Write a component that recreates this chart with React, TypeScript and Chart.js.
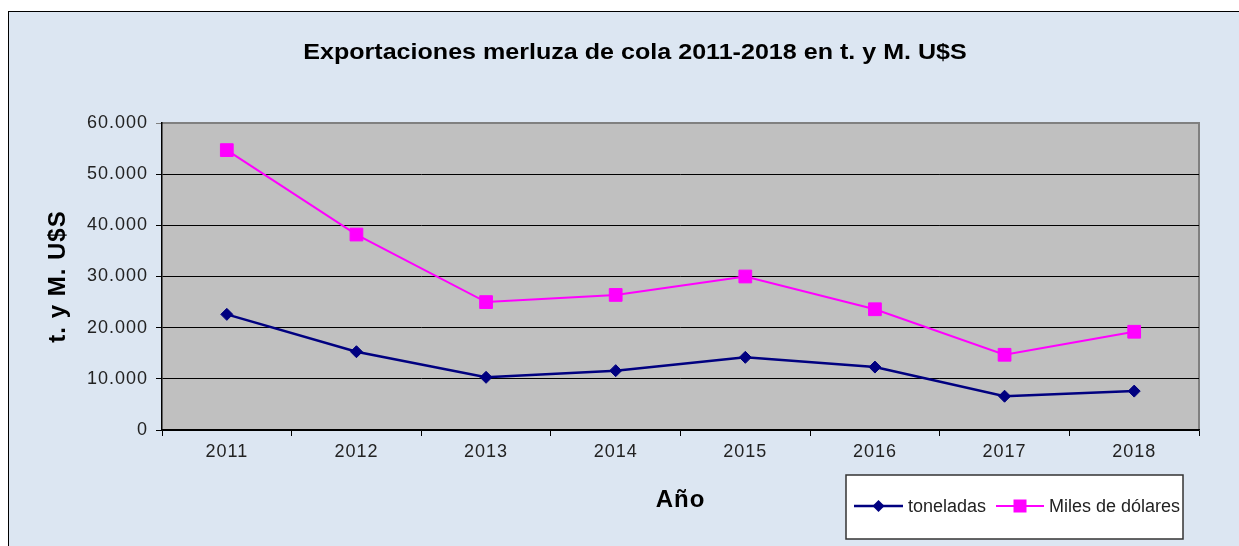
import React, { useEffect, useRef } from 'react';
import { Chart, registerables } from 'chart.js';

Chart.register(...registerables);

const years = ['2011', '2012', '2013', '2014', '2015', '2016', '2017', '2018'];
const toneladas = [22600, 15300, 10300, 11600, 14200, 12300, 6600, 7600];
const milesDolares = [54700, 38200, 25000, 26400, 30000, 23600, 14700, 19200];
const seriesNames = ['toneladas', 'Miles de dólares'];
const titleText = 'Exportaciones merluza de cola 2011-2018 en t. y M. U$S';
const yTitleText = 't. y M. U$S';
const xTitleText = 'Año';
const yMin = 0;
const yMax = 60000;
const yStep = 10000;

const FONT = "'Liberation Sans', Arial, sans-serif";
const CANVAS_W = 1238;
const CANVAS_H = 540;

const fmt = (v: number) => String(v).replace(/\B(?=(\d{3})+(?!\d))/g, '.');

const plotBg = {
  id: 'plotBg',
  beforeDraw(chart: any) {
    const { ctx, chartArea } = chart;
    const { left, top, right, bottom } = chartArea;
    ctx.letterSpacing = '1px';
    ctx.save();
    ctx.fillStyle = '#C0C0C0';
    ctx.fillRect(left, top, right - left, bottom - top);
    ctx.strokeStyle = '#808080';
    ctx.lineWidth = 2;
    ctx.beginPath();
    ctx.moveTo(left, top);
    ctx.lineTo(right, top);
    ctx.lineTo(right, bottom);
    ctx.stroke();
    ctx.restore();
  },
};

const chartTitle = {
  id: 'chartTitle',
  afterDraw(chart: any) {
    const { ctx } = chart;
    const sx = 1.14;
    ctx.save();
    ctx.letterSpacing = '0px';
    ctx.scale(sx, 1);
    ctx.fillStyle = '#000000';
    ctx.font = `bold 22px ${FONT}`;
    ctx.textAlign = 'center';
    ctx.textBaseline = 'middle';
    ctx.fillText(titleText, 626 / sx, 41);
    ctx.restore();
  },
};

const boxLegend = {
  id: 'boxLegend',
  afterDraw(chart: any) {
    const { ctx } = chart;
    const bx = 837, by = 463, bw = 337, bh = 64;
    ctx.save();
    ctx.letterSpacing = '0px';
    ctx.fillStyle = '#FFFFFF';
    ctx.fillRect(bx, by, bw, bh);
    ctx.strokeStyle = '#333333';
    ctx.lineWidth = 1.5;
    ctx.strokeRect(bx, by, bw, bh);
    const cy = by + 31;
    const items = [
      { x0: 845, x1: 894, tx: 899 },
      { x0: 987, x1: 1035, tx: 1040 },
    ];
    chart.data.datasets.forEach((ds: any, i: number) => {
      const it = items[i];
      ctx.strokeStyle = ds.borderColor;
      ctx.lineWidth = ds.borderWidth;
      ctx.beginPath();
      ctx.moveTo(it.x0, cy);
      ctx.lineTo(it.x1, cy);
      ctx.stroke();
      const mx = (it.x0 + it.x1) / 2;
      ctx.fillStyle = ds.pointBackgroundColor;
      ctx.beginPath();
      if (ds.pointStyle === 'rectRot') {
        const r = 6;
        ctx.moveTo(mx - r, cy);
        ctx.lineTo(mx, cy - r);
        ctx.lineTo(mx + r, cy);
        ctx.lineTo(mx, cy + r);
        ctx.closePath();
      } else {
        const s = 6.5;
        ctx.rect(mx - s, cy - s, 2 * s, 2 * s);
      }
      ctx.fill();
      ctx.fillStyle = '#222222';
      ctx.font = `18px ${FONT}`;
      ctx.textBaseline = 'middle';
      ctx.textAlign = 'left';
      ctx.fillText(ds.label, it.tx, cy + 1);
    });
    ctx.restore();
  },
};

export default function App() {
  const ref = useRef<HTMLCanvasElement | null>(null);

  useEffect(() => {
    if (!ref.current) return;
    const chart = new Chart(ref.current, {
      type: 'line',
      data: {
        labels: years,
        datasets: [
          {
            label: seriesNames[0],
            data: toneladas,
            borderColor: '#000080',
            backgroundColor: '#000080',
            pointBackgroundColor: '#000080',
            pointBorderColor: '#000080',
            borderWidth: 2.5,
            pointStyle: 'rectRot',
            pointRadius: 6,
            pointBorderWidth: 1,
            tension: 0,
          },
          {
            label: seriesNames[1],
            data: milesDolares,
            borderColor: '#FF00FF',
            backgroundColor: '#FF00FF',
            pointBackgroundColor: '#FF00FF',
            pointBorderColor: '#FF00FF',
            borderWidth: 2,
            pointStyle: 'rect',
            pointRadius: 9,
            pointBorderWidth: 1,
            tension: 0,
          },
        ],
      },
      options: {
        responsive: false,
        animation: false,
        layout: { padding: { left: 0, right: CANVAS_W - 1190, top: 111, bottom: 0 } },
        plugins: {
          legend: { display: false },
          tooltip: { enabled: false },
          title: { display: false },
        },
        scales: {
          x: {
            type: 'category',
            offset: true,
            grid: {
              offset: true,
              drawOnChartArea: false,
              drawTicks: true,
              tickLength: 6,
              color: '#000000',
              lineWidth: 1,
            },
            border: { display: true, color: '#000000', width: 1.5 },
            ticks: {
              color: '#222222',
              font: { family: FONT, size: 18 },
              padding: 5,
              maxRotation: 0,
            },
            title: {
              display: true,
              text: xTitleText,
              color: '#000000',
              font: { family: FONT, size: 24, weight: 'bold' },
              padding: { top: 0, bottom: 37.6 },
            },
            afterFit(scale: any) {
              scale.height = CANVAS_H - 418;
            },
          },
          y: {
            min: yMin,
            max: yMax,
            grid: {
              drawTicks: true,
              tickLength: 6,
              color: (c: any) => (c.tick && c.tick.value === yMax ? '#808080' : '#000000'),
              lineWidth: 1,
            },
            border: { display: true, color: '#000000', width: 1.5 },
            ticks: {
              stepSize: yStep,
              color: '#222222',
              font: { family: FONT, size: 18 },
              padding: 8,
              callback: (v: any) => fmt(Number(v)),
            },
            title: {
              display: true,
              text: yTitleText,
              color: '#000000',
              font: { family: FONT, size: 24, weight: 'bold' },
              padding: { top: 34.6, bottom: 0 },
            },
            afterFit(scale: any) {
              scale.width = 153;
            },
          },
        },
      },
      plugins: [plotBg, chartTitle, boxLegend],
    });
    return () => chart.destroy();
  }, []);

  return (
    <div style={{ position: 'fixed', inset: 0, overflow: 'hidden', background: '#FFFFFF' }}>
      <div
        style={{
          position: 'absolute',
          left: 8,
          top: 11,
          width: CANVAS_W,
          height: CANVAS_H,
          background: '#DCE6F2',
          border: '1px solid #000000',
        }}
      >
        <canvas ref={ref} width={CANVAS_W} height={CANVAS_H} style={{ display: 'block', width: CANVAS_W, height: CANVAS_H }} />
      </div>
    </div>
  );
}
